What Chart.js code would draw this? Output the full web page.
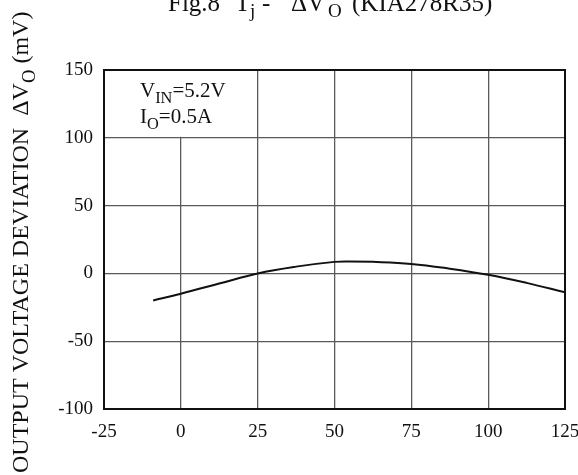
<!DOCTYPE html>
<html>
<head>
<meta charset="utf-8">
<script src="https://cdn.jsdelivr.net/npm/chart.js@4"></script>
<style>
  html, body { margin: 0; padding: 0; background: #fff; }
  #wrap { width: 578px; height: 475px; }
</style>
</head>
<body>
<div id="wrap"><canvas id="tj-vo"></canvas></div>
<script>
// junction temperature (°C) and output voltage deviation (mV)
var tempJ = [-9, 0, 12.5, 25, 37.5, 50, 55, 62.5, 75, 87.5, 100, 112.5, 125];
var deltaVo = [-20, -15, -7.5, 0, 5, 8.5, 8.8, 8.5, 7, 3.5, -1, -7, -14];
var xTicks = [-25, 0, 25, 50, 75, 100, 125];
var yTicks = [-100, -50, 0, 50, 100, 150];

var serif = '"Liberation Serif", "DejaVu Serif", serif';

// writes text with subscripts, parts = [[text, isSub], ...]
function drawRich(ctx, parts, x, y, size) {
    parts.forEach(function(p) {
        var s = p[1] ? size * 0.78 : size;
        ctx.font = s + 'px ' + serif;
        ctx.fillText(p[0], x, p[1] ? y + size * 0.28 : y);
        x += ctx.measureText(p[0]).width;
    });
}

var extras = {
    id: 'extras',
    beforeDatasetsDraw: function(chart) {
        var ctx = chart.ctx;
        var a = chart.chartArea;
        var xs = chart.scales.x, ys = chart.scales.y;
        // legend cell: no grid line inside it
        ctx.save();
        ctx.fillStyle = '#fff';
        ctx.fillRect(a.left + 1, a.top + 1, xs.getPixelForValue(25) - a.left - 2, ys.getPixelForValue(100) - a.top - 2);
        ctx.fillStyle = '#111';
        ctx.textBaseline = 'alphabetic';
        ctx.textAlign = 'left';
        drawRich(ctx, [['V', false], ['IN', true], ['=5.2V', false]], 140, 97, 21);
        drawRich(ctx, [['I', false], ['O', true], ['=0.5A', false]], 140, 123, 21);
        ctx.restore();
    },
    afterDraw: function(chart) {
        var ctx = chart.ctx;
        var a = chart.chartArea;
        ctx.save();
        ctx.strokeStyle = '#111';
        ctx.lineWidth = 2;
        ctx.strokeRect(a.left, a.top, a.right - a.left, a.bottom - a.top);
        ctx.fillStyle = '#111';
        ctx.textAlign = 'left';
        ctx.textBaseline = 'alphabetic';
        // title, pieces placed like the original
        ctx.font = '25px ' + serif;
        ctx.fillText('Fig.8', 168, 11);
        ctx.fillText('T', 235, 11);
        ctx.fillText('-', 262, 11);
        ctx.fillText('\u0394V', 291, 11);
        ctx.fillText('(KIA278R35)', 352, 11);
        ctx.font = '19px ' + serif;
        ctx.fillText('j', 250, 17);
        ctx.fillText('O', 328, 17);
        // y axis title
        ctx.translate(28, 473);
        ctx.rotate(-Math.PI / 2);
        drawRich(ctx, [['OUTPUT VOLTAGE DEVIATION  \u0394V', false], ['O', true], [' (mV)', false]], 0, 0, 24);
        ctx.restore();
    }
};

var ctx = document.getElementById('tj-vo');
var chart = new Chart(ctx, {
    type: 'line',
    data: {
        datasets: [{
            data: tempJ.map(function(t, i) { return { x: t, y: deltaVo[i] }; }),
            borderColor: '#111',
            borderWidth: 2,
            pointRadius: 0,
            tension: 0.4,
            fill: false
        }]
    },
    options: {
        responsive: true,
        maintainAspectRatio: false,
        animation: false,
        layout: { padding: { left: 0, right: 13, top: 70, bottom: 36 } },
        plugins: {
            legend: { display: false },
            title: { display: false },
            tooltip: { enabled: false }
        },
        scales: {
            x: {
                type: 'linear',
                min: -25,
                max: 125,
                afterBuildTicks: function(scale) { scale.ticks = xTicks.map(function(v) { return { value: v }; }); },
                afterFit: function(scale) {
                    scale.height = 30;
                    scale.paddingLeft = 0;
                    scale.paddingRight = 0;
                },
                grid: { color: '#5a5a5a', lineWidth: 1.3, drawTicks: false },
                border: { display: false },
                ticks: { color: '#111', padding: 12, font: { family: serif, size: 19 } }
            },
            y: {
                min: -100,
                max: 150,
                afterBuildTicks: function(scale) { scale.ticks = yTicks.map(function(v) { return { value: v }; }); },
                afterFit: function(scale) {
                    scale.width = 104;
                    scale.paddingTop = 0;
                    scale.paddingBottom = 0;
                },
                grid: { color: '#5a5a5a', lineWidth: 1.3, drawTicks: false },
                border: { display: false },
                ticks: { color: '#111', padding: 11, font: { family: serif, size: 19 } }
            }
        }
    },
    plugins: [extras]
});
</script>
</body>
</html>
